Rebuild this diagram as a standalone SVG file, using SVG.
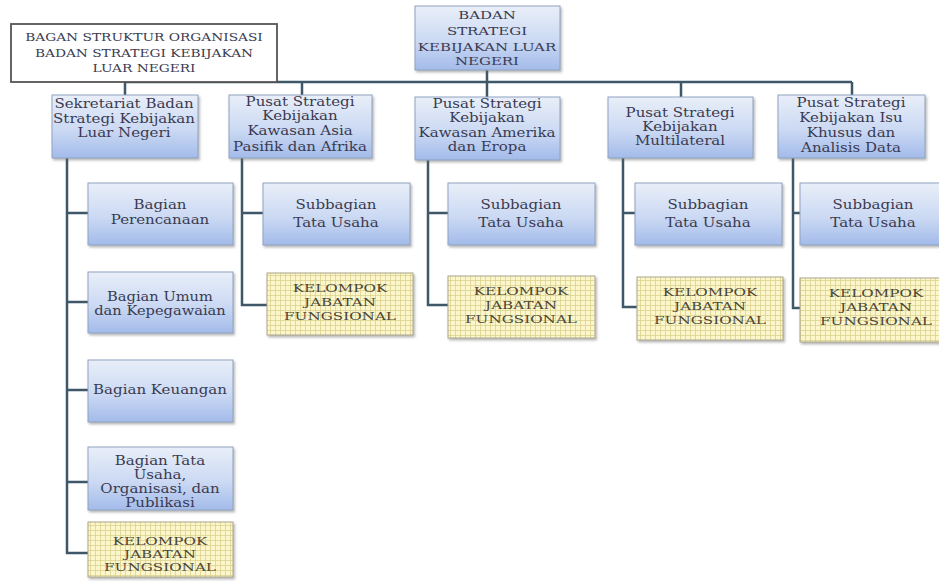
<svg xmlns="http://www.w3.org/2000/svg" width="939" height="588" viewBox="0 0 939 588">
<defs>
<linearGradient id="blue" x1="0" y1="0" x2="0" y2="1">
<stop offset="0" stop-color="#e9eff9"/>
<stop offset="0.55" stop-color="#cbd9f3"/>
<stop offset="1" stop-color="#a3bbea"/>
</linearGradient>
<pattern id="grid" width="5" height="5" patternUnits="userSpaceOnUse">
<rect width="5" height="5" fill="#fbf6cc"/>
<path d="M0,0.5 H5 M0.5,0 V5" stroke="#dcd28e" stroke-width="0.8"/>
</pattern>
<filter id="sh" x="-10%" y="-10%" width="120%" height="130%">
<feDropShadow dx="1.5" dy="2" stdDeviation="1.2" flood-color="#666" flood-opacity="0.45"/>
</filter>
<style>
.b{fill:url(#blue);stroke:#8fa2bf;stroke-width:1;filter:url(#sh)}
.y{fill:url(#grid);stroke:#a9a58c;stroke-width:1;filter:url(#sh)}
.t{font-family:"DejaVu Serif","Liberation Serif",serif;font-size:12px;fill:#3a3a50;text-anchor:middle}
.c{font-family:"DejaVu Serif","Liberation Serif",serif;font-size:11px;fill:#3a3a50;text-anchor:middle}
.k{font-family:"DejaVu Serif","Liberation Serif",serif;font-size:11px;fill:#4a4636;text-anchor:middle}
.ln{fill:none;stroke:#3e5769;stroke-width:2.5}
</style>
</defs>
<rect width="939" height="588" fill="#ffffff"/>

<g id="connectors">
<path class="ln" d="M487,70 V82 M125,82 H852 M125,82 V95 M302,82 V95 M487,82 V97 M681,82 V97 M852,82 V95"/>
<path class="ln" d="M67,158 V553 H88 M67,213 H88 M67,302 H88 M67,390 H88 M67,482 H88"/>
<path class="ln" d="M242,158 V305 H267 M242,213 H263"/>
<path class="ln" d="M428,160 V305 H448 M428,213 H448"/>
<path class="ln" d="M623,158 V307 H637 M623,213 H635"/>
<path class="ln" d="M793,158 V308 H800 M793,213 H800"/>
</g>

<g id="title">
<rect x="11" y="24" width="266" height="58" fill="#ffffff" stroke="#555" stroke-width="1.8"/>
<text class="c" transform="translate(144 0) scale(1.25 1)"><tspan x="0" y="41">BAGAN STRUKTUR ORGANISASI</tspan><tspan x="0" y="57">BADAN STRATEGI KEBIJAKAN</tspan><tspan x="0" y="72">LUAR NEGERI</tspan></text>
</g>

<g id="root">
<rect class="b" x="415" y="6" width="145" height="64"/>
<text class="c" transform="translate(487 0) scale(1.36 1)"><tspan x="0" y="19">BADAN</tspan><tspan x="0" y="35">STRATEGI</tspan><tspan x="0" y="51">KEBIJAKAN LUAR</tspan><tspan x="0" y="65">NEGERI</tspan></text>
</g>

<g id="sekretariat">
<rect class="b" x="52" y="95" width="146" height="63"/>
<text class="t" transform="translate(124 0) scale(1.25 1)"><tspan x="0" y="108">Sekretariat Badan</tspan><tspan x="0" y="123">Strategi Kebijakan</tspan><tspan x="0" y="137">Luar Negeri</tspan></text>
</g>

<g id="asia">
<rect class="b" x="229" y="95" width="143" height="63"/>
<text class="t" transform="translate(300 0) scale(1.25 1)"><tspan x="0" y="106">Pusat Strategi</tspan><tspan x="0" y="120">Kebijakan</tspan><tspan x="0" y="135">Kawasan Asia</tspan><tspan x="0" y="151">Pasifik dan Afrika</tspan></text>
</g>

<g id="amerika">
<rect class="b" x="415" y="97" width="145" height="63"/>
<text class="t" transform="translate(487 0) scale(1.25 1)"><tspan x="0" y="108">Pusat Strategi</tspan><tspan x="0" y="122">Kebijakan</tspan><tspan x="0" y="137">Kawasan Amerika</tspan><tspan x="0" y="151">dan Eropa</tspan></text>
</g>

<g id="multilateral">
<rect class="b" x="608" y="97" width="145" height="61"/>
<text class="t" transform="translate(680 0) scale(1.25 1)"><tspan x="0" y="117">Pusat Strategi</tspan><tspan x="0" y="131">Kebijakan</tspan><tspan x="0" y="145">Multilateral</tspan></text>
</g>

<g id="isu">
<rect class="b" x="778" y="95" width="147" height="63"/>
<text class="t" transform="translate(851 0) scale(1.25 1)"><tspan x="0" y="107">Pusat Strategi</tspan><tspan x="0" y="122">Kebijakan Isu</tspan><tspan x="0" y="137">Khusus dan</tspan><tspan x="0" y="152">Analisis Data</tspan></text>
</g>

<g id="perencanaan">
<rect class="b" x="88" y="183" width="145" height="62"/>
<text class="t" transform="translate(160 0) scale(1.25 1)"><tspan x="0" y="209">Bagian</tspan><tspan x="0" y="224">Perencanaan</tspan></text>
</g>

<g id="umum">
<rect class="b" x="88" y="272" width="145" height="61"/>
<text class="t" transform="translate(160 0) scale(1.22 1)"><tspan x="0" y="301">Bagian Umum</tspan><tspan x="0" y="315">dan Kepegawaian</tspan></text>
</g>

<g id="keuangan">
<rect class="b" x="88" y="360" width="145" height="62"/>
<text class="t" transform="translate(160 0) scale(1.25 1)"><tspan x="0" y="394">Bagian Keuangan</tspan></text>
</g>

<g id="tatausaha">
<rect class="b" x="88" y="447" width="145" height="63"/>
<text class="t" transform="translate(160 0) scale(1.25 1)"><tspan x="0" y="465">Bagian Tata</tspan><tspan x="0" y="479">Usaha,</tspan><tspan x="0" y="493">Organisasi, dan</tspan><tspan x="0" y="507">Publikasi</tspan></text>
</g>

<g id="kjf-sekretariat">
<rect class="y" x="88" y="522" width="145" height="55"/>
<text class="k" transform="translate(160 0) scale(1.38 1)"><tspan x="0" y="545">KELOMPOK</tspan><tspan x="0" y="558">JABATAN</tspan><tspan x="0" y="571">FUNGSIONAL</tspan></text>
</g>

<g id="sub-asia">
<rect class="b" x="263" y="183" width="147" height="62"/>
<text class="t" transform="translate(336 0) scale(1.25 1)"><tspan x="0" y="209">Subbagian</tspan><tspan x="0" y="227">Tata Usaha</tspan></text>
</g>
<g id="kjf-asia">
<rect class="y" x="267" y="273" width="146" height="62"/>
<text class="k" transform="translate(340 0) scale(1.38 1)"><tspan x="0" y="292">KELOMPOK</tspan><tspan x="0" y="306">JABATAN</tspan><tspan x="0" y="320">FUNGSIONAL</tspan></text>
</g>

<g id="sub-amerika">
<rect class="b" x="448" y="183" width="147" height="62"/>
<text class="t" transform="translate(521 0) scale(1.25 1)"><tspan x="0" y="209">Subbagian</tspan><tspan x="0" y="227">Tata Usaha</tspan></text>
</g>
<g id="kjf-amerika">
<rect class="y" x="448" y="276" width="147" height="62"/>
<text class="k" transform="translate(521 0) scale(1.38 1)"><tspan x="0" y="295">KELOMPOK</tspan><tspan x="0" y="309">JABATAN</tspan><tspan x="0" y="323">FUNGSIONAL</tspan></text>
</g>

<g id="sub-multilateral">
<rect class="b" x="635" y="183" width="147" height="62"/>
<text class="t" transform="translate(708 0) scale(1.25 1)"><tspan x="0" y="209">Subbagian</tspan><tspan x="0" y="227">Tata Usaha</tspan></text>
</g>
<g id="kjf-multilateral">
<rect class="y" x="637" y="277" width="146" height="63"/>
<text class="k" transform="translate(710 0) scale(1.38 1)"><tspan x="0" y="296">KELOMPOK</tspan><tspan x="0" y="310">JABATAN</tspan><tspan x="0" y="324">FUNGSIONAL</tspan></text>
</g>

<g id="sub-isu">
<rect class="b" x="800" y="183" width="146" height="62"/>
<text class="t" transform="translate(873 0) scale(1.25 1)"><tspan x="0" y="209">Subbagian</tspan><tspan x="0" y="227">Tata Usaha</tspan></text>
</g>
<g id="kjf-isu">
<rect class="y" x="800" y="278" width="152" height="64"/>
<text class="k" transform="translate(876 0) scale(1.38 1)"><tspan x="0" y="297">KELOMPOK</tspan><tspan x="0" y="311">JABATAN</tspan><tspan x="0" y="325">FUNGSIONAL</tspan></text>
</g>
</svg>
